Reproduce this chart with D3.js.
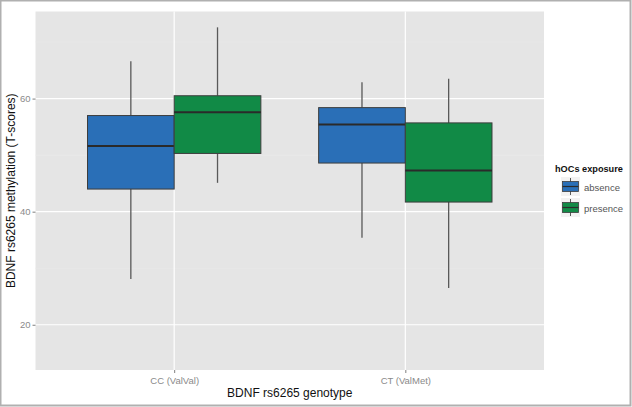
<!DOCTYPE html>
<html><head><meta charset="utf-8">
<script src="https://cdn.jsdelivr.net/npm/d3@7"></script>
<style>body{margin:0;background:#fff;} svg{display:block;font-family:"Liberation Sans",Arial,Helvetica,sans-serif;}</style>
</head><body><svg id="c" width="632" height="407"></svg>
<script>
const genotypes = ["CC (ValVal)", "CT (ValMet)"];
const exposures = ["absence", "presence"];
const colors = ["#2a6fb7", "#118a46"];
// [lowerWhisker, q1, median, q3, upperWhisker]
const boxCC_absence  = [28.1, 44.0, 51.6, 57.0, 66.6];
const boxCC_presence = [45.1, 50.3, 57.6, 60.5, 72.6];
const boxCT_absence  = [35.4, 48.6, 55.4, 58.4, 62.9];
const boxCT_presence = [26.5, 41.7, 47.3, 55.7, 63.5];
const yTicks = [20, 40, 60];
const yMinor = [30, 50, 70];
const yDomain = [12.0, 75.4];

const boxes = [
  {g: genotypes[0], e: exposures[0], v: boxCC_absence},
  {g: genotypes[0], e: exposures[1], v: boxCC_presence},
  {g: genotypes[1], e: exposures[0], v: boxCT_absence},
  {g: genotypes[1], e: exposures[1], v: boxCT_presence}
];

const svg = d3.select("#c");
const P = {l: 35.5, r: 544, t: 11.5, b: 370};

// outer frame
svg.append("rect").attr("x", 0.5).attr("y", 0.5).attr("width", 630).attr("height", 405)
  .attr("fill", "#fff").attr("stroke", "#b0b0b0").attr("stroke-width", 2);

const y = d3.scaleLinear().domain(yDomain).range([P.b, P.t]);
// ggplot discrete: expansion 0.6 units each side, categories 1 unit apart
const xc = d3.scalePoint().domain(genotypes).range([P.l, P.r]).padding(0.6);
const unit = (P.r - P.l) / 2.2;
const xd = d3.scaleBand().domain(exposures).range([-0.375 * unit, 0.375 * unit]);

svg.append("rect").attr("x", P.l).attr("y", P.t).attr("width", P.r - P.l).attr("height", P.b - P.t).attr("fill", "#e5e5e5");

const grid = svg.append("g");
grid.selectAll(".mi").data(yMinor.filter(v => v >= yDomain[0] && v <= yDomain[1])).join("line")
  .attr("x1", P.l).attr("x2", P.r).attr("y1", d => y(d)).attr("y2", d => y(d))
  .attr("stroke", "#ebebeb").attr("stroke-width", 0.6);
grid.selectAll(".ma").data(yTicks).join("line")
  .attr("x1", P.l).attr("x2", P.r).attr("y1", d => y(d)).attr("y2", d => y(d))
  .attr("stroke", "#ffffff").attr("stroke-width", 1.2);
grid.selectAll(".mx").data(genotypes).join("line")
  .attr("y1", P.t).attr("y2", P.b).attr("x1", d => xc(d)).attr("x2", d => xc(d))
  .attr("stroke", "#ffffff").attr("stroke-width", 1.2);

// boxes
const bg = svg.append("g").selectAll("g").data(boxes).join("g")
  .attr("transform", d => `translate(${xc(d.g) + xd(d.e)},0)`);
const bw = xd.bandwidth();
bg.append("line").attr("x1", bw/2).attr("x2", bw/2).attr("y1", d => y(d.v[4])).attr("y2", d => y(d.v[3]))
  .attr("stroke", "#595959").attr("stroke-width", 1.3);
bg.append("line").attr("x1", bw/2).attr("x2", bw/2).attr("y1", d => y(d.v[1])).attr("y2", d => y(d.v[0]))
  .attr("stroke", "#595959").attr("stroke-width", 1.3);
bg.append("rect").attr("x", 0).attr("width", bw).attr("y", d => y(d.v[3])).attr("height", d => y(d.v[1]) - y(d.v[3]))
  .attr("fill", d => colors[exposures.indexOf(d.e)]).attr("stroke", "#3d3d3d").attr("stroke-width", 1);
bg.append("line").attr("x1", 0).attr("x2", bw).attr("y1", d => y(d.v[2])).attr("y2", d => y(d.v[2]))
  .attr("stroke", "#2a2a2a").attr("stroke-width", 2);

// axes
const ya = svg.append("g").attr("transform", `translate(${P.l},0)`)
  .call(d3.axisLeft(y).tickValues(yTicks).tickSize(3).tickPadding(2));
ya.select(".domain").remove();
ya.selectAll("line").attr("stroke", "#7f7f7f");
ya.selectAll("text").attr("fill", "#8a8a8a").attr("font-size", 9.5).attr("font-family", "Liberation Sans, Arial, sans-serif");

const xa = svg.append("g").attr("transform", `translate(0,${P.b})`)
  .call(d3.axisBottom(xc).tickSize(3).tickPadding(4));
xa.select(".domain").remove();
xa.selectAll("line").attr("stroke", "#7f7f7f");
xa.selectAll("text").attr("fill", "#8a8a8a").attr("font-size", 9.5).attr("font-family", "Liberation Sans, Arial, sans-serif");

svg.append("text").attr("x", (P.l + P.r) / 2).attr("y", 397).attr("text-anchor", "middle")
  .attr("font-size", 12).attr("fill", "#111").text("BDNF rs6265 genotype");
svg.append("text").attr("transform", `translate(15,${(P.t + P.b) / 2}) rotate(-90)`).attr("text-anchor", "middle")
  .attr("font-size", 12).attr("fill", "#111").text("BDNF rs6265 methylation (T-scores)");

// legend
const lg = svg.append("g").attr("transform", "translate(555,0)");
lg.append("text").attr("x", 0).attr("y", 172).attr("font-size", 9.2).attr("font-weight", "bold").attr("fill", "#111").text("hOCs exposure");
const li = lg.selectAll(".li").data(exposures).join("g").attr("transform", (d, i) => `translate(6,${177 + i * 21})`);
li.append("rect").attr("width", 19).attr("height", 19).attr("fill", "#f2f2f2");
li.append("line").attr("x1", 9.5).attr("x2", 9.5).attr("y1", 1).attr("y2", 18).attr("stroke", "#595959").attr("stroke-width", 1);
li.append("rect").attr("x", 1.5).attr("y", 4.5).attr("width", 16).attr("height", 10)
  .attr("fill", (d, i) => colors[i]).attr("stroke", "#3d3d3d").attr("stroke-width", 0.8);
li.append("line").attr("x1", 1.5).attr("x2", 17.5).attr("y1", 9.5).attr("y2", 9.5).attr("stroke", "#2a2a2a").attr("stroke-width", 1.2);
li.append("text").attr("x", 23).attr("y", 13.5).attr("font-size", 9.5).attr("fill", "#555").text(d => d);
</script></body></html>
